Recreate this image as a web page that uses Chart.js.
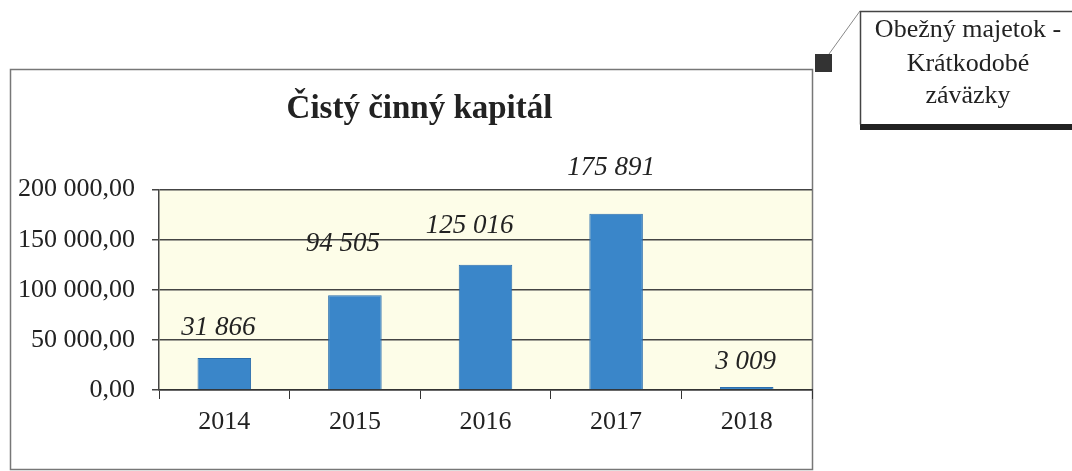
<!DOCTYPE html>
<html>
<head>
<meta charset="utf-8">
<script src="https://cdn.jsdelivr.net/npm/chart.js@4/dist/chart.umd.min.js"></script>
<style>
    html, body { margin: 0; padding: 0; background: #fff; }
    #wrap { width: 1072px; height: 471px; }
</style>
</head>
<body>
<div id="wrap"><canvas id="chart"></canvas></div>
<script>
// data
const years = ["2014", "2015", "2016", "2017", "2018"];
const values = [31866, 94505, 125016, 175891, 3009];
const valueLabels = ["31 866", "94 505", "125 016", "175 891", "3 009"];
const yTicks = [0, 50000, 100000, 150000, 200000];
const chartTitle = "Čistý činný kapitál";
const seriesName = ["Obežný majetok -", "Krátkodobé", "záväzky"];

const serif = "'Liberation Serif', 'Times New Roman', serif";

// 200 000,00 style numbers
function formatTick(v) {
    let whole = Math.round(v).toString().replace(/\B(?=(\d{3})+(?!\d))/g, " ");
    return whole + ",00";
}

// cream plot background and the outer frame
const background = {
    id: "background",
    afterLayout(chart) {
        // title sits a little right of the frame centre
        chart.titleBlock.left += 17;
    },
    beforeDraw(chart) {
        let ctx = chart.ctx;
        let a = chart.chartArea;
        ctx.save();
        ctx.fillStyle = "#fdfde8";
        ctx.fillRect(a.left, a.top, a.right - a.left, a.bottom - a.top);
        ctx.strokeStyle = "#777";
        ctx.lineWidth = 1.5;
        ctx.strokeRect(10.5, 69.5, 802, 400);
        ctx.restore();
    }
};

// italic value labels above the bars
const valueLabelPlugin = {
    id: "valueLabels",
    afterDatasetsDraw(chart, args, opts) {
        let ctx = chart.ctx;
        let meta = chart.getDatasetMeta(0);
        ctx.save();
        ctx.font = "italic 27px " + serif;
        ctx.fillStyle = "#222";
        ctx.textAlign = "center";
        ctx.textBaseline = "middle";
        meta.data.forEach((bar, i) => {
            let off = opts.offsets[i];
            ctx.fillText(valueLabels[i], bar.x + off[0], bar.y - off[1]);
        });
        ctx.restore();
    }
};

// legend callout box in the top right corner
const calloutLegend = {
    id: "calloutLegend",
    afterDraw(chart) {
        let ctx = chart.ctx;
        ctx.save();
        // connector line
        ctx.strokeStyle = "#888";
        ctx.lineWidth = 1;
        ctx.beginPath();
        ctx.moveTo(829, 54);
        ctx.lineTo(860, 11);
        ctx.stroke();
        // marker
        ctx.fillStyle = "#333";
        ctx.fillRect(815, 54, 17, 18);
        // shadow
        ctx.fillStyle = "#222";
        ctx.fillRect(860, 124, 212, 6);
        // box
        ctx.fillStyle = "#fff";
        ctx.fillRect(860, 11, 212, 113);
        ctx.strokeStyle = "#444";
        ctx.lineWidth = 1.5;
        ctx.beginPath();
        ctx.moveTo(1072, 11.5);
        ctx.lineTo(860.5, 11.5);
        ctx.lineTo(860.5, 124.5);
        ctx.stroke();
        // text
        ctx.fillStyle = "#222";
        ctx.font = "26px " + serif;
        ctx.textAlign = "center";
        ctx.textBaseline = "alphabetic";
        let baselines = [37, 71, 103];
        seriesName.forEach((line, i) => ctx.fillText(line, 968, baselines[i]));
        ctx.restore();
    }
};

new Chart(document.getElementById("chart"), {
    type: "bar",
    data: {
        labels: years,
        datasets: [{
            label: seriesName.join(" "),
            data: values,
            backgroundColor: "#3a86c9",
            borderColor: "#2c6ead",
            borderWidth: 1,
            categoryPercentage: 1,
            barPercentage: 0.41
        }]
    },
    options: {
        responsive: true,
        maintainAspectRatio: false,
        animation: false,
        layout: { padding: { left: 10, right: 260, top: 0, bottom: 0 } },
        plugins: {
            legend: { display: false },
            tooltip: { enabled: false },
            title: {
                display: true,
                text: chartTitle,
                color: "#222",
                font: { family: serif, size: 33, weight: "bold" },
                padding: { top: 90, bottom: 60 }
            },
            valueLabels: {
                offsets: [[-6, 30], [-12, 51], [-16, 39], [-5, 46], [-1, 25]]
            }
        },
        scales: {
            x: {
                afterFit(scale) { scale.height = 81; },
                grid: {
                    offset: true,
                    drawOnChartArea: false,
                    drawTicks: true,
                    tickLength: 9,
                    color: "#333"
                },
                border: { display: true, color: "#333", width: 1.5 },
                ticks: {
                    color: "#222",
                    padding: 8,
                    font: { family: serif, size: 26 }
                }
            },
            y: {
                min: 0,
                max: 200000,
                afterFit(scale) { scale.width = 149; },
                afterBuildTicks(scale) { scale.ticks = yTicks.map(v => ({ value: v })); },
                grid: {
                    color: "#444",
                    lineWidth: 1.5,
                    tickLength: 7
                },
                border: { display: true, color: "#444", width: 1.5 },
                ticks: {
                    color: "#222",
                    padding: 17,
                    font: { family: serif, size: 26 },
                    callback: (v) => formatTick(v)
                }
            }
        }
    },
    plugins: [background, valueLabelPlugin, calloutLegend]
});
</script>
</body>
</html>
